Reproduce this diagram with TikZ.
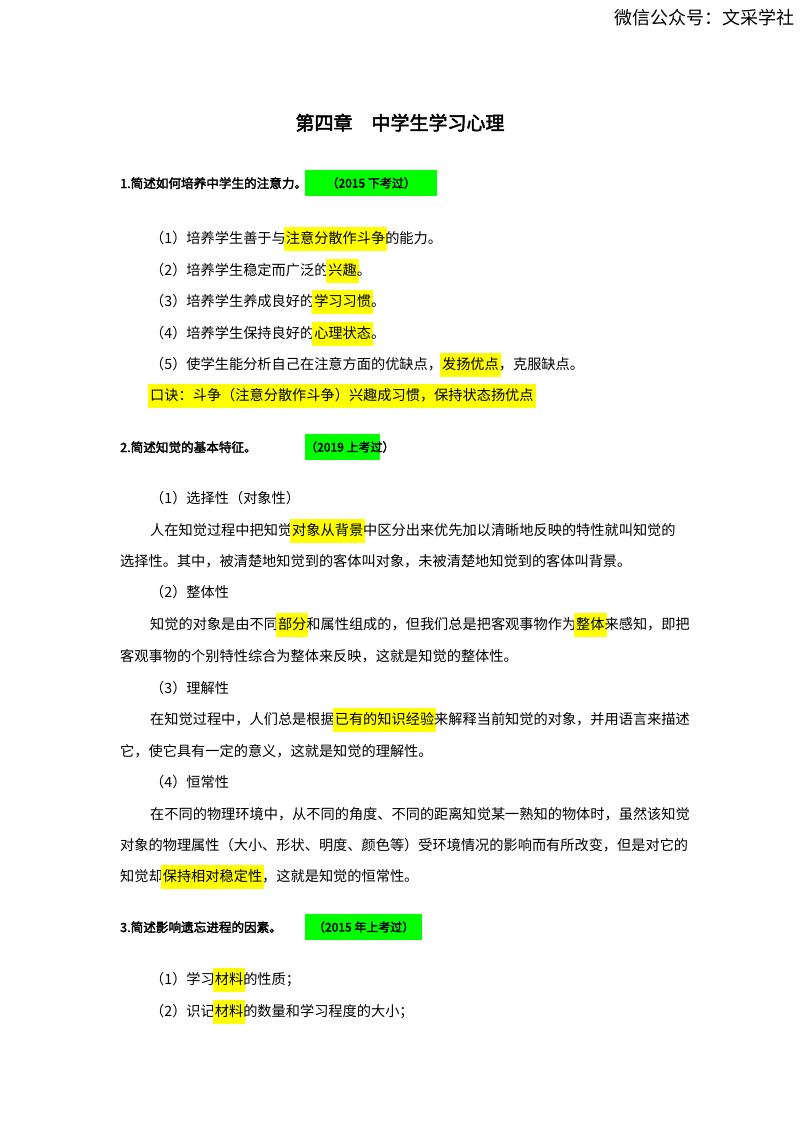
\documentclass[tikz,border=0pt]{standalone}
\usepackage{fontspec}
\setmainfont{Noto Sans CJK SC}[AutoFakeBold=2.5]
\definecolor{hly}{RGB}{255,255,0}
\definecolor{hlg}{RGB}{0,255,0}
\newcommand\hlt[1]{{\setlength\fboxsep{2pt}\kern-2pt\colorbox{hly}{\rule[-6pt]{0pt}{20pt}#1}\kern-2pt}}
\tikzset{t/.style={anchor=base west,inner sep=0pt,font=\fontsize{14.2}{16}\selectfont},
h/.style={t,font=\fontsize{12.6}{15}\selectfont\bfseries},
g/.style={fill=hlg,anchor=west,inner sep=0pt,minimum height=26pt,font=\fontsize{12}{15}\selectfont\bfseries}}
\begin{document}
\begin{tikzpicture}[x=1pt,y=-1pt]
\useasboundingbox (0,0) rectangle (800,1132);
\node[anchor=base east,inner sep=0pt,font=\fontsize{18}{20}\selectfont] (wx) at (795,25) {微信公众号：文采学社};
\node[anchor=base,inner sep=0pt,font=\fontsize{19}{22}\selectfont\bfseries] (title) at (400,130) {第四章\quad 中学生学习心理};
\node[h] (h1) at (120,188) {1.简述如何培养中学生的注意力。};
\node[g,minimum width=132pt] (g1) at (305,183) {（2015 下考过）};
\node[t] (a1) at (150,243) {（1）培养学生善于与\hlt{注意分散作斗争}的能力。};
\node[t] (a2) at (150,275) {（2）培养学生稳定而广泛的\hlt{兴趣}。};
\node[t] (a3) at (150,306) {（3）培养学生养成良好的\hlt{学习习惯}。};
\node[t] (a4) at (150,338) {（4）培养学生保持良好的\hlt{心理状态}。};
\node[t] (a5) at (150,369) {（5）使学生能分析自己在注意方面的优缺点，\hlt{发扬优点}，克服缺点。};
\node[t] (a6) at (150,400) {\hlt{口诀：斗争（注意分散作斗争）兴趣成习惯，保持状态扬优点}};
\node[h] (h2) at (120,452) {2.简述知觉的基本特征。};
\node[g,minimum width=75pt] (g2) at (305,447) {\makebox[75pt][l]{（2019 上考过）}};
\node[t] (b1) at (150,503) {（1）选择性（对象性）};
\node[t] (b2) at (150,535) {人在知觉过程中把知觉\hlt{对象从背景}中区分出来优先加以清晰地反映的特性就叫知觉的};
\node[t] (b3) at (120,566) {选择性。其中，被清楚地知觉到的客体叫对象，未被清楚地知觉到的客体叫背景。};
\node[t] (b4) at (150,597) {（2）整体性};
\node[t] (b5) at (150,629) {知觉的对象是由不同\hlt{部分}和属性组成的，但我们总是把客观事物作为\hlt{整体}来感知，即把};
\node[t] (b6) at (120,661) {客观事物的个别特性综合为整体来反映，这就是知觉的整体性。};
\node[t] (b7) at (150,693) {（3）理解性};
\node[t] (b8) at (150,724) {在知觉过程中，人们总是根据\hlt{已有的知识经验}来解释当前知觉的对象，并用语言来描述};
\node[t] (b9) at (120,756) {它，使它具有一定的意义，这就是知觉的理解性。};
\node[t] (b10) at (150,787) {（4）恒常性};
\node[t] (b11) at (150,819) {在不同的物理环境中，从不同的角度、不同的距离知觉某一熟知的物体时，虽然该知觉};
\node[t] (b12) at (120,850) {对象的物理属性（大小、形状、明度、颜色等）受环境情况的影响而有所改变，但是对它的};
\node[t] (b13) at (120,881) {知觉却\hlt{保持相对稳定性}，这就是知觉的恒常性。};
\node[h] (h3) at (120,932) {3.简述影响遗忘进程的因素。};
\node[g,minimum width=117pt] (g3) at (305,927) {（2015 年上考过）};
\node[t] (c1) at (150,984) {（1）学习\hlt{材料}的性质；};
\node[t] (c2) at (150,1016) {（2）识记\hlt{材料}的数量和学习程度的大小；};
\end{tikzpicture}
\end{document}
